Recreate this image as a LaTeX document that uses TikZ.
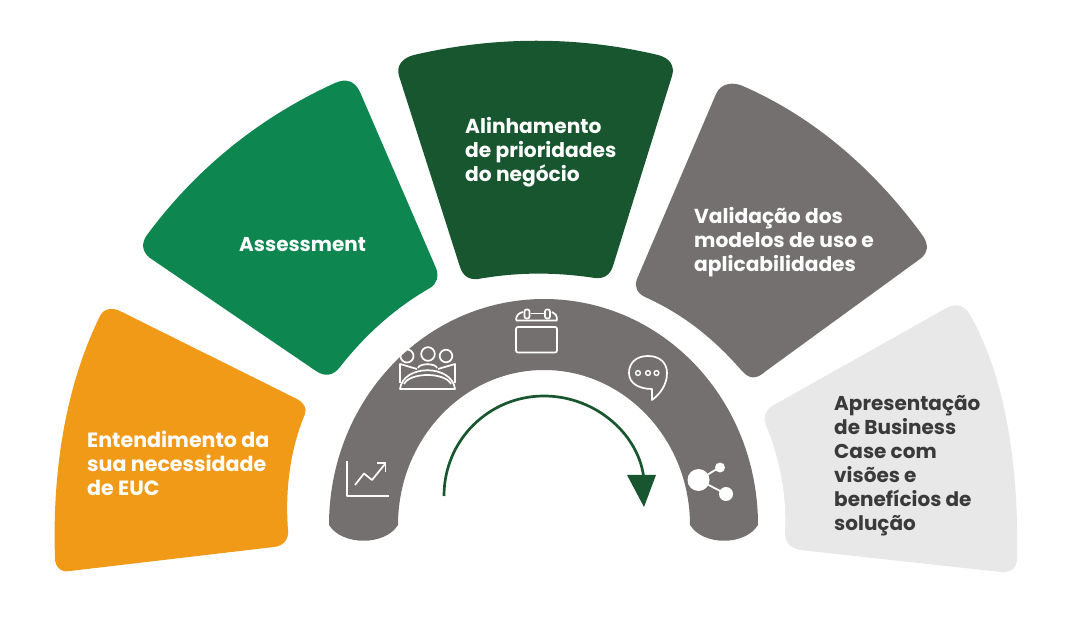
\documentclass[tikz,border=0pt]{standalone}
\usepackage{fontspec}
\setmainfont{Poppins}
\definecolor{cOrange}{HTML}{F19A18}
\definecolor{cGreen}{HTML}{0D8650}
\definecolor{cDark}{HTML}{17562F}
\definecolor{cGray}{HTML}{747070}
\definecolor{cLight}{HTML}{E8E8E8}
\definecolor{cTxt}{HTML}{3A3A3A}
\tikzset{
  lbl/.style={anchor=west,align=left,font=\fontsize{20.2}{24}\selectfont\bfseries,text=white,inner sep=0pt},
  ico/.style={draw=white,line width=1.7pt,fill=none,line join=round}
}
\begin{document}
\begin{tikzpicture}[x=1pt,y=-1pt]
\useasboundingbox (0,0) rectangle (1080,617);
% orange
\fill[cOrange] (122,312) -- (297,399) .. controls (304,403) and (307,408) .. (305,414)
 .. controls (290,450) and (285,490) .. (288,530) .. controls (289,540) and (283,546) .. (274,547)
 -- (70,571) .. controls (60,573) and (55,566) .. (55,558)
 .. controls (52,470) and (66,385) .. (100,316) .. controls (104,308) and (113,307) .. (122,312) -- cycle;
% green
\fill[cGreen] (360,92) -- (436,268) .. controls (439,276) and (437,284) .. (430,288)
 .. controls (395,308) and (365,335) .. (340,367) .. controls (333,376) and (325,377) .. (316,371)
 -- (150,258) .. controls (142,252) and (141,243) .. (147,235)
 .. controls (195,170) and (258,118) .. (335,83) .. controls (346,78) and (355,81) .. (360,92) -- cycle;
% dark green
\fill[cDark] (414,55) .. controls (495,36) and (578,36) .. (658,55)
 .. controls (670,58) and (675,66) .. (672,76) -- (613,266) .. controls (610,275) and (604,279) .. (595,278)
 .. controls (555,272) and (518,272) .. (478,279) .. controls (469,280) and (463,276) .. (460,267)
 -- (399,76) .. controls (396,66) and (402,58) .. (414,55) -- cycle;
% gray petal
\fill[cGray] (745,87) .. controls (815,118) and (875,170) .. (923,236)
 .. controls (929,245) and (928,253) .. (920,259) -- (766,371) .. controls (757,379) and (750,380) .. (742,371)
 .. controls (715,340) and (685,315) .. (645,297) .. controls (637,293) and (634,287) .. (637,279)
 -- (716,94) .. controls (721,83) and (733,81) .. (745,87) -- cycle;
% light
\fill[cLight] (943,310) .. controls (953,303) and (963,304) .. (969,313)
 .. controls (1005,375) and (1019,465) .. (1017,558) .. controls (1017,568) and (1011,573) .. (1001,572)
 -- (800,550) .. controls (790,548) and (785,542) .. (785,533)
 .. controls (787,495) and (780,460) .. (766,425) .. controls (763,417) and (765,411) .. (772,406) -- (943,310) -- cycle;
% ring
\fill[cGray] (329,525) .. controls (329,400) and (425,299) .. (544,299)
 .. controls (663,299) and (758,400) .. (758,525)
 .. controls (745,546) and (703,546) .. (690,525)
 .. controls (690,440) and (625,370) .. (544,370)
 .. controls (463,370) and (398,440) .. (398,525)
 .. controls (385,546) and (342,546) .. (329,525) -- cycle;
% arrow
\coordinate (arS) at (444,496);
\coordinate (arE) at (644,480);
\draw[cDark,line width=2.7pt] (arS) .. controls (444,440) and (489,396) .. (544,396) .. controls (596,396) and (640,435) .. (arE);
\fill[cDark] (627,475) -- (656,475) -- (644,507) -- cycle;
% labels
\node[lbl,font=\fontsize{20.6}{24}\selectfont\bfseries] (t1) at (87,463.5) {Entendimento da\\sua necessidade\\de EUC};
\node[lbl,font=\fontsize{20}{24}\selectfont\bfseries] (t2) at (239,244.5) {Assessment};
\node[lbl] (t3) at (465,152) {Alinhamento\\de prioridades\\do negócio};
\node[lbl] (t4) at (694,242.5) {Validação dos\\modelos de uso e\\aplicabilidades};
\node[lbl,text=cTxt,font=\fontsize{20}{24}\selectfont\bfseries] (t5) at (834,465.5) {Apresentação\\de Business\\Case com\\visões e\\benefícios de\\solução};
% chart icon
\draw[ico] (347,461) -- (347,496) -- (389,496);
\draw[ico] (355,485) -- (364,473.5) -- (372,480) -- (385,464);
\draw[ico] (377,463) -- (385.5,463) -- (385.5,472);
% meeting icon
\draw[ico] (407,356) circle (6.5);
\draw[ico] (428,354) circle (6.8);
\draw[ico] (446,356) circle (6.3);
\draw[ico] (400,389) .. controls (403,364) and (452,364) .. (455,389) -- cycle;
\draw[ico] (404,384) .. controls (410,372) and (445,372) .. (451,384);
\draw[ico] (400,383) -- (400,364) -- (417,369) (455,383) -- (455,364) -- (438,369);
\draw[ico] (418,368) .. controls (419,363) and (436,363) .. (437,368);
% calendar icon
\draw[ico,rounded corners=2pt] (516,327) rectangle (557,352.5);
\draw[ico] (516,320.5) .. controls (516,315) and (519,313) .. (523,312) (516,320.5) -- (557,320.5) (557,320.5) .. controls (557,315) and (555,313) .. (552,312);
\draw[ico,rounded corners=2pt] (524.5,309.5) rectangle (529.5,318.5);
\draw[ico,rounded corners=2pt] (545,309.5) rectangle (550,318.5);
\draw[ico] (531,313.5) -- (544,313.5);
% speech icon
\draw[ico] (648,356) .. controls (636,356) and (629,363) .. (629,373)
 .. controls (629,384) and (640,389) .. (652,389) -- (652,400) .. controls (660,394) and (667,385) .. (667,373)
 .. controls (667,363) and (660,356) .. (648,356) -- cycle;
\foreach \px in {638,648,656.5} \draw[white,line width=1.4pt] (\px,373) circle (2.4);
% share icon
\draw[white,line width=1.8pt] (699,480) -- (720,467) (699,480) -- (726,494);
\fill[white] (698.5,480) circle (11);
\fill[white] (720,467.5) circle (5);
\fill[white] (726,494) circle (7);
\end{tikzpicture}
\end{document}
